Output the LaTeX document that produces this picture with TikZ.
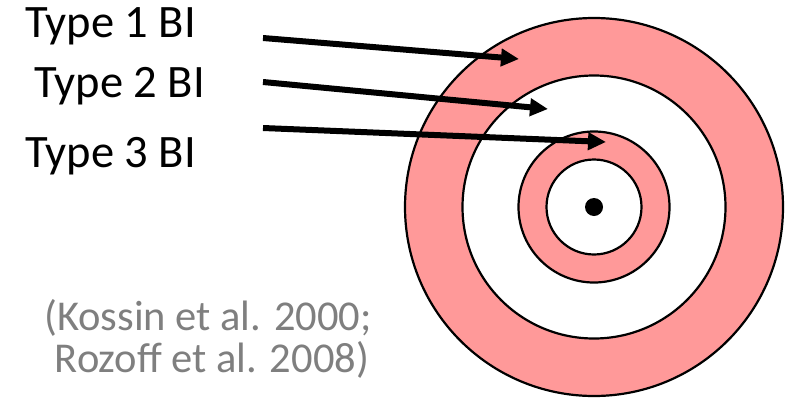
\documentclass[tikz,border=0pt]{standalone}
\usepackage{fontspec}
\setmainfont{Carlito}
\usetikzlibrary{arrows.meta}
\definecolor{ringpink}{HTML}{FF9999}
\definecolor{citegray}{HTML}{7F7F7F}
\tikzset{
ring/.style={draw=black,line width=2.2pt},
typetext/.style={font=\fontsize{46.5}{50}\selectfont,inner sep=0pt,anchor=base west},
citetext/.style={font=\fontsize{42.5}{44}\selectfont,text=citegray,inner sep=0pt,anchor=base},
pointer/.style={-{Triangle[length=18pt,width=17pt]},line width=6pt,draw=black}}
\begin{document}
\begin{tikzpicture}[x=1pt,y=-1pt]
\useasboundingbox (0,0) rectangle (797,399);
% target rings
\coordinate (eye) at (594,207);
\filldraw[ring,fill=ringpink] (eye) circle[radius=189];
\filldraw[ring,fill=white] (eye) circle[radius=131.5];
\filldraw[ring,fill=ringpink] (eye) circle[radius=75.5];
\filldraw[ring,fill=white] (eye) circle[radius=47.5];
\fill[black] (eye) circle[radius=9];
% labels
\node[typetext] (type1) at (25,37) {Type 1 BI};
\node[typetext] (type2) at (34,97) {Type 2 BI};
\node[typetext] (type3) at (25,167) {Type 3 BI};
\node[citetext] (cite1) at (208,330) {(Kossin et al. 2000;};
\node[citetext] (cite2) at (212,372) {Rozoff et al. 2008)};
% arrows into the rings
\coordinate (from1) at (263,38);
\coordinate (from2) at (263,82);
\coordinate (from3) at (263,128);
\coordinate (into1) at (519,59);
\coordinate (into2) at (548,109);
\coordinate (into3) at (606,142);
\draw[pointer] (from1)--(into1);
\draw[pointer] (from2)--(into2);
\draw[pointer] (from3)--(into3);
\end{tikzpicture}
\end{document}
